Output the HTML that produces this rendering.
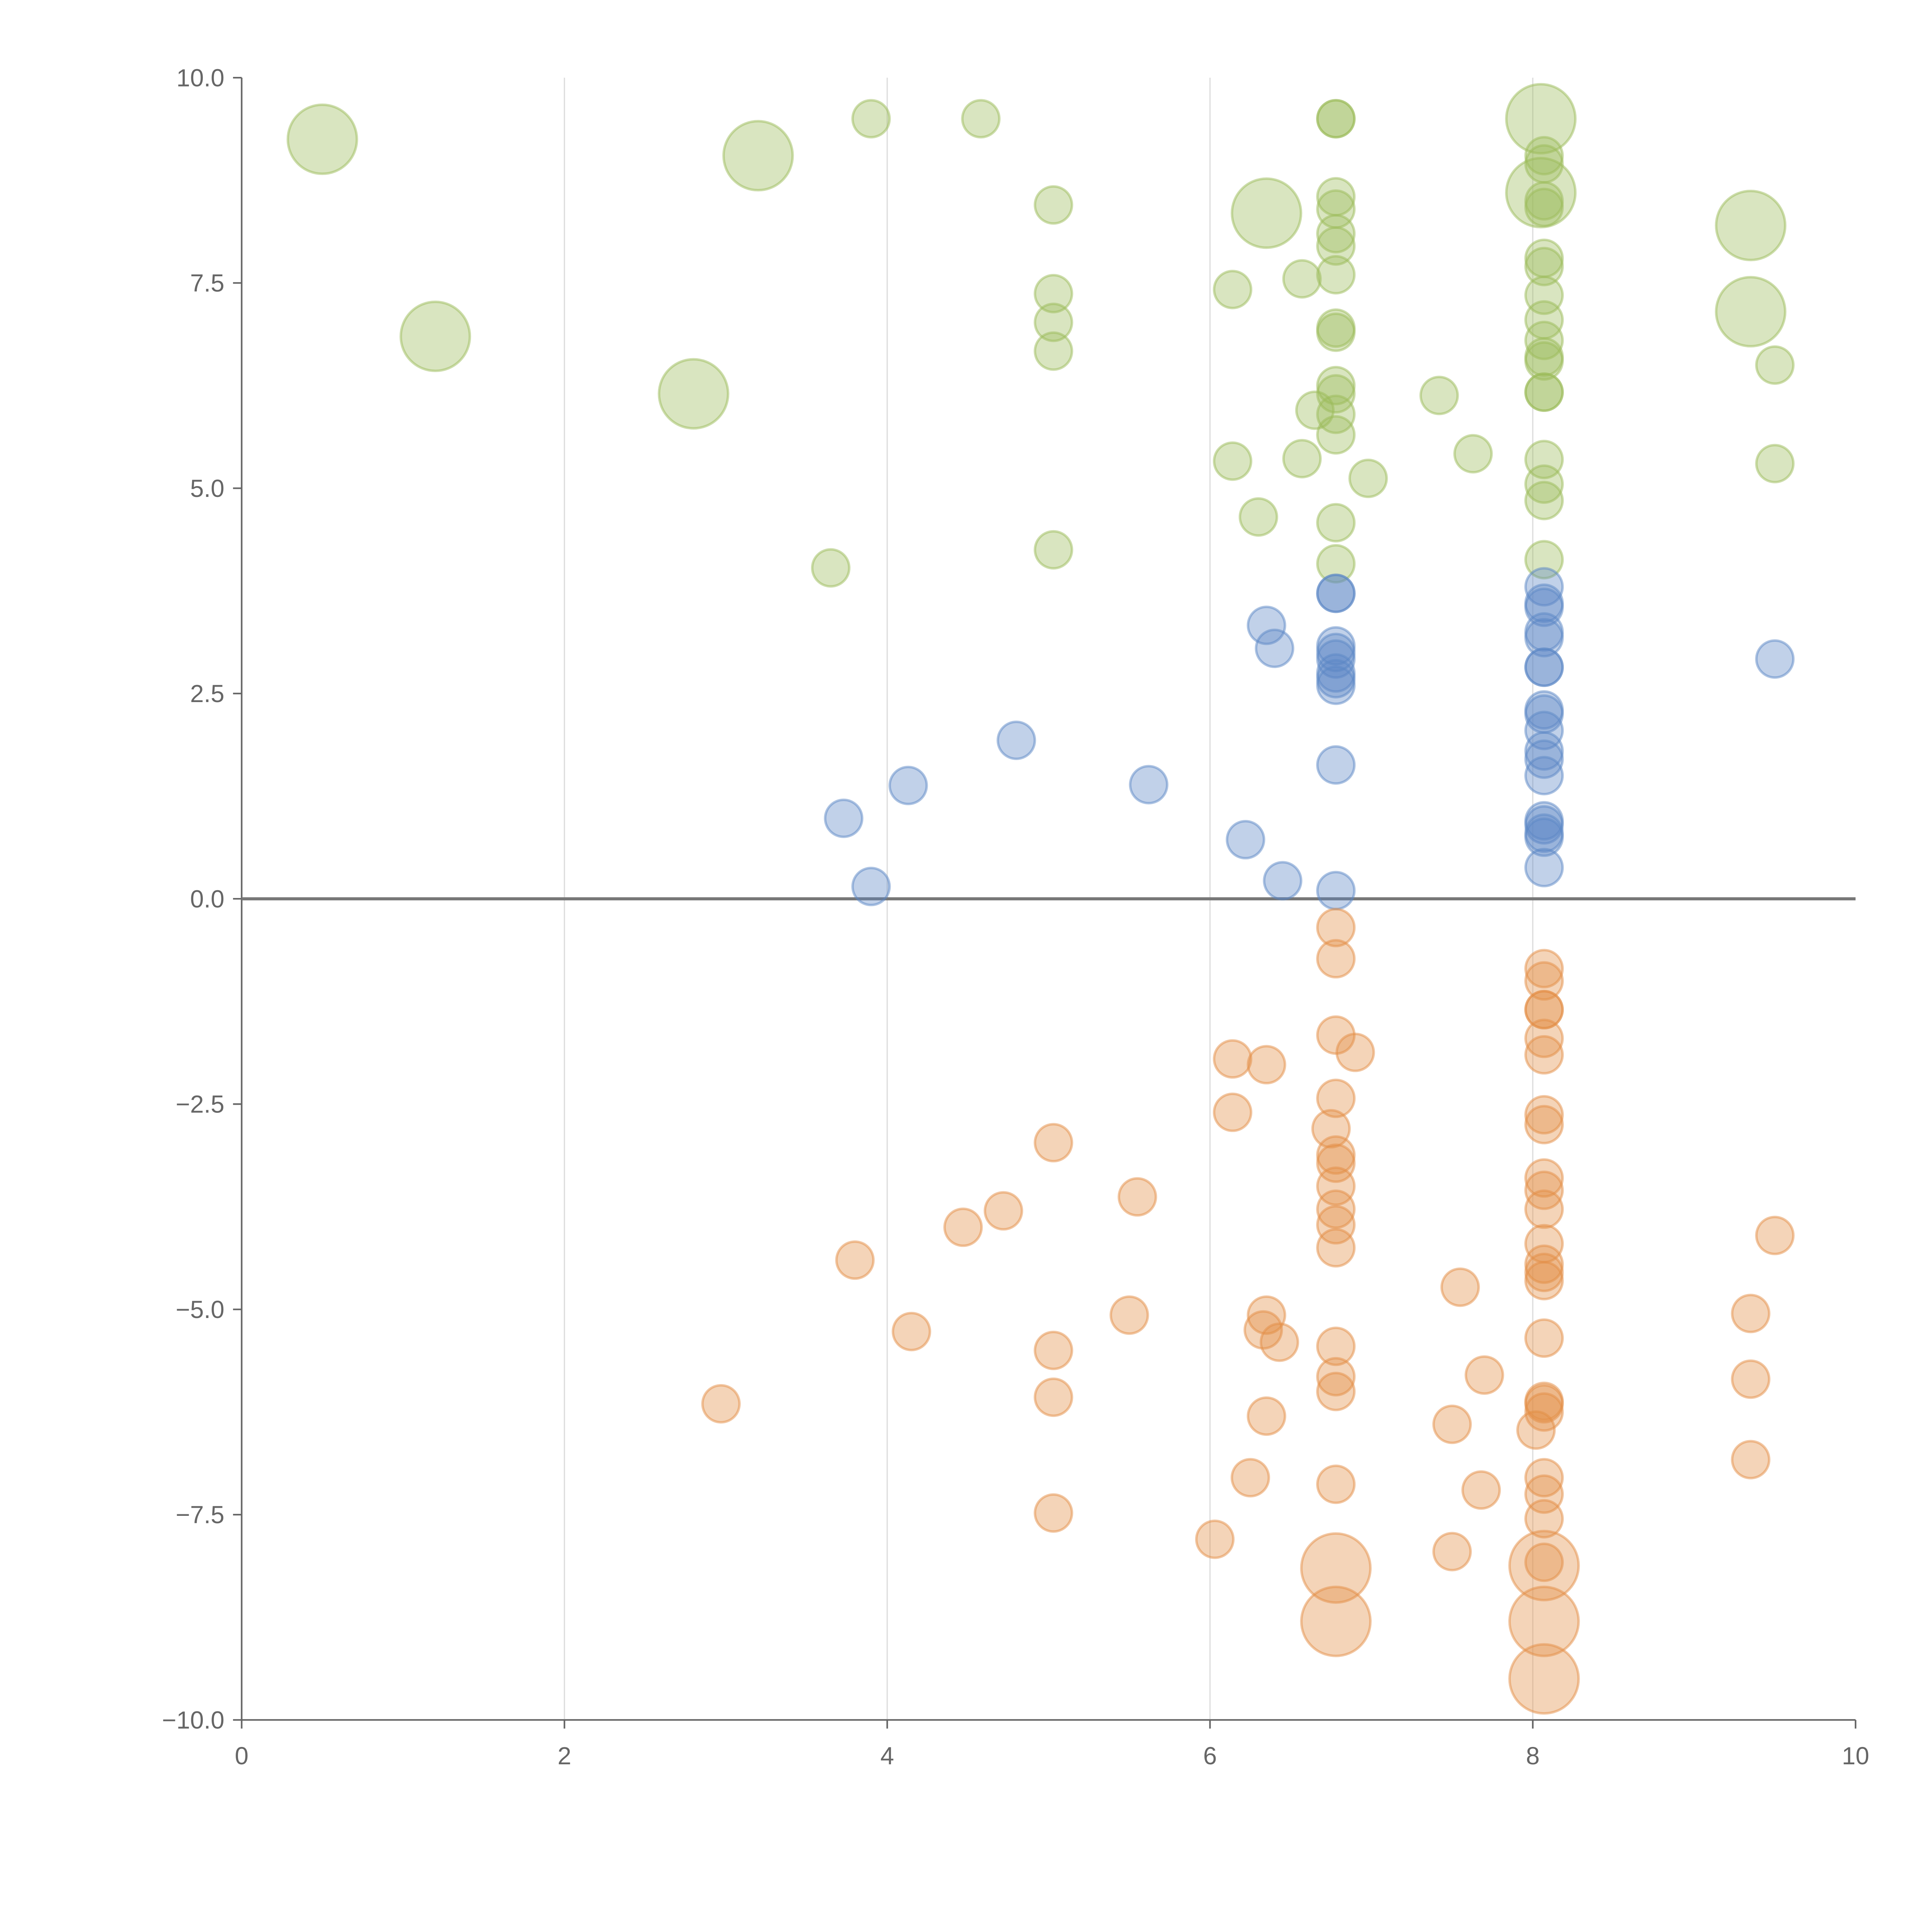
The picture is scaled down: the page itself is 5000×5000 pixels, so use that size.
<!DOCTYPE html>
<html><head><meta charset="utf-8"><style>
html,body{margin:0;padding:0;background:#fff;}
svg{display:block;}
text{font-family:"Liberation Sans",sans-serif;fill:#666;}
</style></head><body>
<svg id="chart" width="5000" height="5000" viewBox="0 0 1567 1567" xmlns="http://www.w3.org/2000/svg">
<g id="grid"></g>
<g id="axes"></g>
<g id="marks"></g>
</svg>
<script>
const xTicks=[0,2,4,6,8,10];
const yTicks=[10,7.5,5,2.5,0,-2.5,-5,-7.5,-10];
const yTickLabels=["10.0","7.5","5.0","2.5","0.0","\u22122.5","\u22125.0","\u22127.5","\u221210.0"];
const greenX=[0.5,3.2,1.2,2.8,6.35,8.05,8.05,9.35,9.35,3.9,4.58,5.03,5.03,5.03,5.03,5.03,3.65,6.14,6.57,6.14,6.57,6.3,6.65,6.78,6.78,6.78,6.78,6.78,6.78,6.78,6.78,6.78,6.78,6.78,6.78,6.78,6.78,6.78,6.98,7.42,7.63,8.07,8.07,8.07,8.07,8.07,8.07,8.07,8.07,8.07,8.07,8.07,8.07,8.07,8.07,8.07,8.07,8.07,9.5,9.5];
const greenY=[9.25,9.05,6.85,6.15,8.35,9.5,8.6,8.2,7.15,9.5,9.5,8.45,7.37,7.02,6.67,4.25,4.03,7.42,7.55,5.33,5.36,4.65,5.95,9.5,9.5,8.55,8.4,8.1,7.95,7.6,6.95,6.9,6.25,6.15,5.9,5.65,4.58,4.08,5.12,6.13,5.42,9.05,8.95,8.5,8.42,7.8,7.7,7.35,7.05,6.8,6.6,6.55,6.17,6.17,5.35,5.05,4.85,4.13,6.5,5.3];
const greenSize=[2,2,2,2,2,2,2,2,2,1,1,1,1,1,1,1,1,1,1,1,1,1,1,1,1,1,1,1,1,1,1,1,1,1,1,1,1,1,1,1,1,1,1,1,1,1,1,1,1,1,1,1,1,1,1,1,1,1,1,1];
const blueX=[3.73,3.9,4.13,4.8,5.62,6.22,6.45,6.35,6.4,6.78,6.78,6.78,6.78,6.78,6.78,6.78,6.78,6.78,6.78,8.07,8.07,8.07,8.07,8.07,8.07,8.07,8.07,8.07,8.07,8.07,8.07,8.07,8.07,8.07,8.07,8.07,8.07,9.5];
const blueY=[0.98,0.15,1.38,1.93,1.39,0.72,0.22,3.33,3.05,3.72,3.72,3.08,3.0,2.92,2.75,2.68,2.6,1.63,0.1,3.8,3.6,3.55,3.25,3.18,2.82,2.82,2.3,2.25,2.05,1.8,1.7,1.5,0.95,0.9,0.8,0.75,0.38,2.92];
const orangeX=[2.97,3.8,4.15,4.47,4.72,5.03,5.03,5.03,5.03,5.5,5.55,6.03,6.14,6.14,6.35,6.35,6.33,6.43,6.35,6.25,6.78,6.78,6.78,6.9,6.78,6.75,6.78,6.78,6.78,6.78,6.78,6.78,6.78,6.78,6.78,6.78,7.55,7.7,7.5,7.68,7.5,8.02,8.07,8.07,8.07,8.07,8.07,8.07,8.07,8.07,8.07,8.07,8.07,8.07,8.07,8.07,8.07,8.07,8.07,8.07,8.07,8.07,8.07,8.07,8.07,9.5,9.35,9.35,9.35,6.78,6.78,8.07,8.07,8.07];
const orangeY=[-6.15,-4.4,-5.27,-4.0,-3.8,-2.97,-5.5,-6.07,-7.48,-5.07,-3.63,-7.8,-1.95,-2.6,-2.02,-5.07,-5.25,-5.4,-6.3,-7.05,-0.35,-0.73,-1.66,-1.87,-2.43,-2.8,-3.12,-3.22,-3.5,-3.78,-3.97,-4.25,-5.45,-5.82,-6.0,-7.13,-4.73,-5.8,-6.4,-7.2,-7.95,-6.47,-0.85,-1.0,-1.35,-1.35,-1.7,-1.9,-2.63,-2.75,-3.4,-3.55,-3.78,-4.2,-4.45,-4.55,-4.65,-5.35,-6.12,-6.15,-6.25,-7.05,-7.25,-7.55,-8.08,-4.1,-5.05,-5.85,-6.83,-8.15,-8.8,-8.12,-8.8,-9.5];
const orangeSize=orangeX.map((_,i)=>i>=69?2:1);

const X0=196,X1=1505,Y0=1395,Y1=63;
const sx=v=>X0+(v-0)/(10-0)*(X1-X0);
const sy=v=>Y0-(v+10)/20*(Y0-Y1);
const NS="http://www.w3.org/2000/svg";
function mk(tag,attrs,parent){const e=document.createElementNS(NS,tag);for(const k in attrs)e.setAttribute(k,attrs[k]);parent.appendChild(e);return e;}
const grid=document.getElementById('grid'),axes=document.getElementById('axes'),marks=document.getElementById('marks');
xTicks.forEach(t=>{
 if(t>0&&t<10){const g=mk('line',{x1:sx(t),x2:sx(t),y1:Y1,y2:Y0,stroke:'#ddd','stroke-width':1},grid);
 
 }
 const tk=mk('line',{x1:sx(t),x2:sx(t),y1:Y0,y2:Y0+7,stroke:'#666','stroke-width':1.3},axes);
 
 
 const tx=mk('text',{x:sx(t),y:Y0+36,'text-anchor':'middle','font-size':20},axes);tx.textContent=t;
 
 
});
yTicks.forEach((t,i)=>{
 const tk=mk('line',{x1:X0-7,x2:X0,y1:sy(t),y2:sy(t),stroke:'#666','stroke-width':1.3},axes);
 
 
 const tx=mk('text',{x:X0-14,y:sy(t)+7,'text-anchor':'end','font-size':20},axes);tx.textContent=yTickLabels[i];
 
 
});
const ya=mk('line',{x1:X0,x2:X0,y1:Y1,y2:Y0,stroke:'#666','stroke-width':1.3},axes);


const xa=mk('line',{x1:X0,x2:X1,y1:Y0,y2:Y0,stroke:'#666','stroke-width':1.3},axes);


const zl=mk('line',{x1:X0,x2:X1,y1:sy(0),y2:sy(0),stroke:'#777','stroke-width':2.5},axes);


function series(xs,ys,sz,color,name){
 xs.forEach((x,i)=>{
  const r=sz[i]===2?28:15;
  const c=mk('circle',{cx:sx(x),cy:sy(ys[i]),r:r,fill:color,'fill-opacity':0.38,stroke:color,'stroke-opacity':0.5,'stroke-width':2},marks);
  
  
 });
}
series(greenX,greenY,greenSize,'#9bbb59','green-bubble');
series(blueX,blueY,blueX.map(()=>1),'#5b87c5','blue-bubble');
series(orangeX,orangeY,orangeSize,'#e38d45','orange-bubble');
</script>
</body></html>
